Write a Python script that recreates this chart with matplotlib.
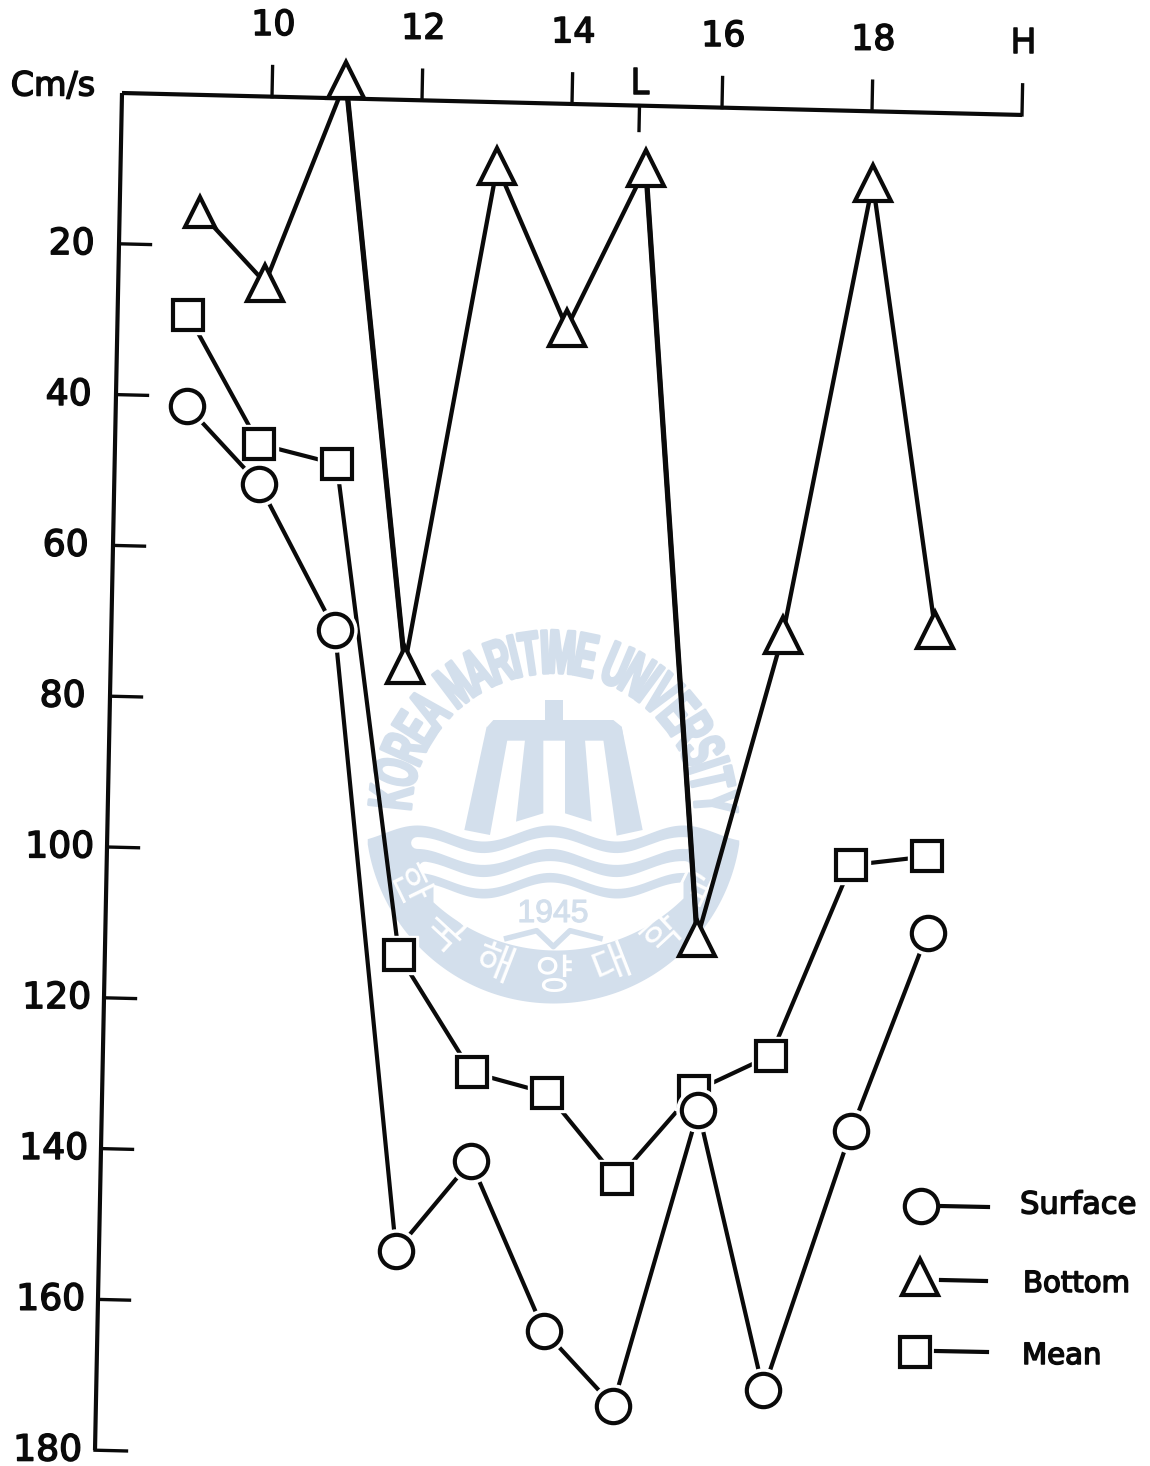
import numpy as np
import matplotlib
matplotlib.use("Agg")
import matplotlib.pyplot as plt
import matplotlib.patheffects as pe
from matplotlib.font_manager import FontProperties
from matplotlib.patches import Polygon
from matplotlib.textpath import TextPath
from matplotlib.transforms import Affine2D

# values (hour of day, current speed in cm/s)
bottom_hours = [9.07, 9.96, 10.98, 11.92, 13.02, 13.99, 15.0, 15.89, 16.95, 18.03, 18.98]
bottom_speed = [15.5, 24.7, -2.4, 74.9, 8.5, 29.7, 8.2, 110.2, 69.7, 9.5, 68.6]
surface_hours = [8.95, 9.93, 10.98, 11.96, 12.93, 13.95, 14.89, 15.95, 16.89, 17.99, 18.96]
surface_speed = [41.3, 51.4, 70.5, 152.6, 140.5, 162.7, 172.4, 133.0, 169.9, 135.3, 108.7]
mean_hours = [8.94, 9.92, 10.96, 11.92, 12.92, 13.93, 14.89, 15.89, 16.9, 17.92, 18.93]
mean_speed = [29.2, 46.1, 48.5, 113.4, 128.7, 131.2, 142.4, 130.5, 125.5, 100.0, 98.6]

x_ticks = [10, 12, 14, 16, 18, 20]
x_labels = ["10", "12", "14", "16", "18", "H"]
y_ticks = [20, 40, 60, 80, 100, 120, 140, 160, 180]
y_labels = ["20", "40", "60", "80", "100", "120", "140", "160", "180"]

INK = "#0a0a0a"
PALE = "#d3dfec"

fig = plt.figure(figsize=(11.5, 14.66), dpi=100)
ax = fig.add_axes([0, 0, 1, 1])
ax.set_xlim(0, 1150)
ax.set_ylim(1466, 0)
ax.axis("off")

# the page was scanned crooked, so hours/speed go through a skewed transform
skew = Affine2D.from_values(75, 1.83, -0.15, 7.54, 122 - 8 * 75, 93 - 8 * 1.83)
scan = skew + ax.transData

heavy = [pe.withStroke(linewidth=1.1, foreground=INK)]


class TallGlyphs(pe.AbstractPathEffect):
    # stretches letters along their own height and fattens them, like the seal lettering
    def __init__(self, factor, width):
        super().__init__()
        self.factor = factor
        self.width = width

    def draw_path(self, renderer, gc, tpath, affine, rgbFace=None):
        gc0 = renderer.new_gc()
        gc0.copy_properties(gc)
        gc0.set_linewidth(self.width)
        gc0.set_foreground(rgbFace)
        renderer.draw_path(gc0, tpath, Affine2D().scale(1, self.factor) + affine, rgbFace)
        gc0.restore()


def z(points):
    # watermark outlines were measured on a 3x crop starting at (350, 610)
    return [(350 + a / 3, 610 + b / 3) for a, b in points]


def label(x, y, s, size=25, **kw):
    kw.setdefault("ha", "center")
    ax.text(x, y, s, fontsize=size, color=INK, va="center", path_effects=heavy, **kw)


def draw_watermark():
    cx, cy, r = 553, 815, 188
    xs = np.linspace(cx - r + 1, cx + r - 1, 300)
    wave = 833 - 8 * np.cos(2 * np.pi * (xs - 550) / 133)
    low = cy + np.sqrt(r ** 2 - (xs - cx) ** 2)
    keep = low > wave
    ax.fill_between(xs[keep], wave[keep], low[keep], color=PALE, lw=0, zorder=1)

    # white bands and the lens under the waves
    for off, x0, x1 in [(18, 417, 687), (42, 425, 685)]:
        wx = np.linspace(x0, x1, 200)
        wy = 833 + off - 8 * np.cos(2 * np.pi * (wx - 550) / 133)
        ax.plot(wx, wy, color="white", lw=8.5, solid_capstyle="round", zorder=1.1)
    lx = np.linspace(433, 683, 200)
    top = 833 + 57 - 8 * np.cos(2 * np.pi * (lx - 550) / 133)
    arc = 769 + np.sqrt(181 ** 2 - (lx - 556) ** 2)
    ax.fill_between(lx, top, np.maximum(top, arc), color="white", lw=0, zorder=1.1)

    # emblem
    shapes = [
        [(585, 270), (640, 270), (640, 335), (585, 335)],
        [(430, 330), (790, 330), (815, 350), (822, 392), (405, 392), (412, 350)],
        [(410, 350), (343, 660), (420, 675), (472, 390)],
        [(525, 390), (498, 635), (580, 610), (580, 390)],
        [(645, 390), (645, 610), (725, 635), (705, 390)],
        [(760, 390), (800, 677), (878, 660), (815, 350)],
    ]
    for shape in shapes:
        ax.add_patch(Polygon(z(shape), closed=True, fc=PALE, ec="none", zorder=1.2))

    # book under the year
    book = z([(470, 985), (560, 962), (610, 1010), (660, 962), (750, 985)])
    ax.plot(*zip(*book), color=PALE, lw=4, zorder=1.2)
    ax.text(553, 914, "1945", fontsize=23, color=PALE, ha="center", va="center",
            family="Liberation Sans", zorder=1.2,
            path_effects=[TallGlyphs(1.0, 0.8)])

    # lettering round the seal, spaced by the width of each letter
    name = "KOREA MARITIME UNIVERSITY"
    fp = FontProperties(family="Liberation Sans", weight="bold")
    widths = [0.3 if c == " " else TextPath((0, 0), c, size=1, prop=fp).get_extents().width + 0.1
              for c in name]
    edges = np.cumsum([0] + widths)
    mids = (edges[:-1] + edges[1:]) / 2
    for ch, mid in zip(name, mids):
        ang = 178 - 178 * mid / edges[-1]
        t = np.radians(ang)
        ax.text(cx + 142 * np.cos(t), cy - 142 * np.sin(t), ch, fontsize=24, color=PALE,
                family="Liberation Sans", weight="bold", rotation=ang - 90,
                rotation_mode="anchor", ha="center", va="baseline", zorder=1.2,
                path_effects=[TallGlyphs(1.85, 2.2)])
    hangul = "한국해양대학교"
    for ch, ang in zip(hangul, np.linspace(206, 334, len(hangul))):
        t = np.radians(ang)
        ax.text(cx + 162 * np.cos(t), cy - 162 * np.sin(t), ch, fontsize=30, color="white",
                family="Noto Sans CJK KR", rotation=ang - 270, rotation_mode="anchor",
                ha="center", va="center", zorder=1.3)


draw_watermark()

# axes drawn by hand so they follow the skew
ax.plot([8, 20], [0, 0], color=INK, lw=3, transform=scan, zorder=2, solid_capstyle="butt")
ax.plot([8, 8], [0, 180], color=INK, lw=3, transform=scan, zorder=2, solid_capstyle="butt")
for h, lab in zip(x_ticks, x_labels):
    ax.plot([h, h], [0, -4], color=INK, lw=2.4, transform=scan, zorder=2)
    label(h, -9.5, lab, transform=scan)
for v, lab in zip(y_ticks, y_labels):
    ax.plot([8, 8.42], [v, v], color=INK, lw=2.4, transform=scan, zorder=2)
    label(7.37, v + 0.2, lab, size=26, transform=scan)
ax.plot([14.9, 14.9], [0, 3.3], color=INK, lw=2.4, transform=scan, zorder=2)
label(14.9, -2.9, "L", transform=scan)
label(53, 86, "Cm/s", size=24)

# series: white halo under each circle/square leaves the small gap the draughtsman left
ax.plot(mean_hours, mean_speed, color=INK, lw=3, transform=scan, zorder=3)
ax.plot(mean_hours, mean_speed, ls="none", marker="s", ms=28, mfc="white", mec="white",
        transform=scan, zorder=3.1)
ax.plot(mean_hours, mean_speed, ls="none", marker="s", ms=21, mfc="white", mec=INK, mew=3,
        transform=scan, zorder=3.2)

ax.plot(bottom_hours, bottom_speed, color=INK, lw=3.1, transform=scan, zorder=4)
# the two long falls were inked heavier
ax.plot(bottom_hours[2:4], bottom_speed[2:4], color=INK, lw=3.8, transform=scan, zorder=4)
ax.plot(bottom_hours[6:8], bottom_speed[6:8], color=INK, lw=3.8, transform=scan, zorder=4)
ax.plot(bottom_hours[:1], bottom_speed[:1], ls="none", marker="^", ms=21, mfc="white", mec=INK,
        mew=3, transform=scan, zorder=4.2)
ax.plot(bottom_hours[1:], bottom_speed[1:], ls="none", marker="^", ms=26, mfc="white", mec=INK,
        mew=3, transform=scan, zorder=4.2)

ax.plot(surface_hours, surface_speed, color=INK, lw=3, transform=scan, zorder=5)
ax.plot(surface_hours, surface_speed, ls="none", marker="o", ms=31, mfc="white", mec="white",
        transform=scan, zorder=5.1)
ax.plot(surface_hours, surface_speed, ls="none", marker="o", ms=24, mfc="white", mec=INK, mew=3,
        transform=scan, zorder=5.2)

# legend, placed where it sits on the page
ax.plot([940, 988], [1206, 1207], color=INK, lw=3, zorder=5)
ax.plot([921], [1206], marker="o", ms=24, mfc="white", mec=INK, mew=3, zorder=6)
label(1020, 1205, "Surface", size=22, ha="left")
ax.plot([941, 986], [1280, 1281], color=INK, lw=3, zorder=5)
ax.plot([920], [1277], marker="^", ms=26, mfc="white", mec=INK, mew=3, zorder=6)
label(1023, 1284, "Bottom", size=21, ha="left")
ax.plot([936, 987], [1351, 1352], color=INK, lw=3, zorder=5)
ax.plot([915], [1352], marker="s", ms=21, mfc="white", mec=INK, mew=3, zorder=6)
label(1022, 1356, "Mean", size=21, ha="left")

fig.savefig("out.png", dpi=100)
